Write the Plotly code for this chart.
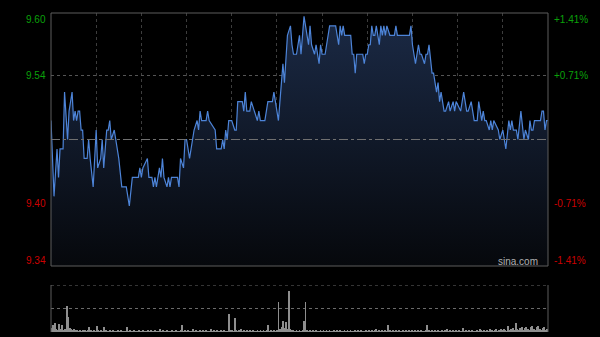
import plotly.graph_objects as go

# ---------------- data ----------------
prev_close = 9.47
pct_levels = [1.41, 0.71, -0.71, -1.41]
price_labels = ["9.60", "9.54", "9.40", "9.34"]
pct_labels = ["+1.41%", "+0.71%", "-0.71%", "-1.41%"]

# minutes after 09:30 (HK session, lunch break removed: 0..330)
minutes = [0, 2, 4, 5, 6, 8, 9, 11, 12, 14, 15, 16, 17, 18, 19, 20, 21, 22, 24, 25,
           26, 28, 29, 30, 31, 33, 34, 35, 37, 38, 39, 40, 42, 43, 45, 47, 50, 52, 54, 58,
           59, 60, 61, 64, 65, 67, 68, 69, 70, 72, 73, 74, 75, 77, 78, 79, 80, 84, 85, 86,
           88, 89, 90, 92, 94, 95, 97, 98, 99, 100, 103, 104, 105, 109, 110, 113, 114, 115, 116, 117,
           118, 120, 122, 123, 124, 127, 128, 129, 130, 132, 133, 135, 137, 138, 139, 142, 143, 144, 147, 148,
           149, 151, 152, 154, 155, 156, 157, 159, 160, 161, 163, 164, 165, 166, 167, 168, 169, 170, 171, 172,
           173, 175, 176, 178, 179, 180, 182, 183, 185, 189, 191, 192, 193, 194, 195, 199, 200, 201, 202, 203,
           207, 208, 209, 210, 211, 212, 213, 214, 215, 216, 218, 219, 220, 221, 222, 223, 225, 228, 229, 230,
           238, 239, 240, 241, 242, 244, 245, 246, 248, 249, 250, 251, 253, 254, 255, 256, 257, 258, 259, 260,
           261, 262, 264, 265, 267, 268, 269, 272, 274, 275, 276, 277, 279, 280, 281, 283, 284, 285, 286, 287,
           288, 289, 291, 292, 293, 294, 297, 298, 300, 301, 302, 304, 305, 306, 307, 309, 310, 312, 313, 314,
           315, 317, 318, 319, 320, 321, 323, 325, 326, 327, 328, 329, 330]
prices = [9.49, 9.41, 9.46, 9.43, 9.46, 9.46, 9.52, 9.47, 9.50, 9.52, 9.49, 9.50, 9.49, 9.50, 9.50, 9.48, 9.48, 9.45, 9.45, 9.47,
          9.45, 9.42, 9.45, 9.48, 9.44, 9.45, 9.47, 9.44, 9.48, 9.48, 9.49, 9.47, 9.48, 9.47, 9.45, 9.42, 9.42, 9.40, 9.43, 9.43,
          9.44, 9.43, 9.44, 9.45, 9.43, 9.43, 9.42, 9.43, 9.42, 9.44, 9.43, 9.45, 9.43, 9.42, 9.43, 9.42, 9.43, 9.43, 9.42, 9.45,
          9.44, 9.47, 9.47, 9.45, 9.47, 9.48, 9.49, 9.48, 9.50, 9.49, 9.49, 9.50, 9.49, 9.48, 9.46, 9.46, 9.47, 9.46, 9.48, 9.47,
          9.49, 9.49, 9.48, 9.48, 9.51, 9.51, 9.50, 9.52, 9.50, 9.50, 9.51, 9.50, 9.49, 9.50, 9.49, 9.49, 9.50, 9.51, 9.51, 9.52,
          9.51, 9.49, 9.51, 9.55, 9.53, 9.56, 9.58, 9.59, 9.57, 9.56, 9.56, 9.57, 9.58, 9.56, 9.58, 9.60, 9.59, 9.58, 9.57, 9.59,
          9.57, 9.56, 9.57, 9.55, 9.57, 9.56, 9.56, 9.57, 9.59, 9.59, 9.57, 9.59, 9.58, 9.59, 9.58, 9.58, 9.56, 9.56, 9.54, 9.56,
          9.56, 9.55, 9.56, 9.56, 9.57, 9.57, 9.59, 9.58, 9.58, 9.59, 9.57, 9.59, 9.58, 9.59, 9.58, 9.59, 9.58, 9.58, 9.59, 9.58,
          9.58, 9.59, 9.57, 9.56, 9.55, 9.57, 9.56, 9.56, 9.55, 9.56, 9.56, 9.57, 9.54, 9.54, 9.53, 9.52, 9.53, 9.51, 9.52, 9.51,
          9.50, 9.50, 9.51, 9.50, 9.51, 9.50, 9.51, 9.50, 9.52, 9.51, 9.50, 9.50, 9.51, 9.50, 9.49, 9.49, 9.51, 9.50, 9.49, 9.50,
          9.49, 9.49, 9.48, 9.49, 9.48, 9.49, 9.48, 9.47, 9.48, 9.47, 9.46, 9.49, 9.48, 9.49, 9.48, 9.48, 9.47, 9.50, 9.48, 9.47,
          9.48, 9.47, 9.49, 9.48, 9.48, 9.49, 9.49, 9.49, 9.50, 9.50, 9.48, 9.49, 9.49]

# per-minute volume (relative units), minute 0..330
volume = [4, 7, 9, 3, 2, 8, 3, 7, 2, 3, 26, 15, 4, 3, 2, 3, 2, 2, 1, 2, 1, 2, 2, 1, 2, 5, 2, 1, 2, 1,
          6, 2, 1, 2, 1, 5, 2, 1, 1, 2, 1, 2, 1, 1, 2, 1, 2, 1, 1, 1, 5, 1, 2, 1, 1, 2, 1, 1, 2, 1,
          1, 2, 1, 1, 2, 1, 2, 1, 1, 2, 1, 1, 3, 1, 2, 1, 1, 2, 1, 1, 2, 1, 1, 2, 1, 1, 2, 7, 1, 2,
          1, 2, 1, 1, 3, 1, 2, 1, 1, 2, 1, 2, 1, 2, 1, 1, 3, 1, 2, 1, 2, 1, 1, 2, 1, 2, 1, 1, 18, 2,
          2, 1, 14, 2, 1, 2, 3, 1, 2, 1, 2, 1, 2, 1, 2, 1, 1, 2, 1, 2, 1, 2, 1, 2, 7, 1, 2, 1, 2, 1,
          2, 30, 3, 5, 11, 4, 10, 3, 41, 3, 2, 2, 1, 2, 1, 2, 1, 2, 11, 30, 2, 1, 2, 1, 2, 1, 2, 1, 1, 2,
          1, 2, 1, 2, 1, 2, 1, 1, 2, 1, 2, 1, 2, 1, 1, 2, 1, 2, 1, 2, 1, 1, 2, 1, 2, 1, 2, 1, 1, 2,
          1, 2, 1, 2, 1, 2, 3, 1, 2, 1, 2, 1, 2, 1, 7, 2, 1, 2, 1, 2, 1, 2, 1, 1, 2, 1, 2, 1, 2, 1,
          2, 1, 2, 1, 2, 1, 2, 1, 1, 2, 7, 2, 1, 2, 1, 2, 1, 2, 1, 1, 2, 1, 2, 3, 1, 2, 1, 2, 1, 2,
          1, 2, 1, 1, 4, 1, 2, 1, 2, 1, 2, 1, 1, 2, 1, 3, 2, 1, 2, 1, 2, 1, 3, 2, 1, 2, 3, 1, 2, 3,
          2, 3, 2, 1, 6, 2, 3, 4, 2, 9, 3, 2, 4, 5, 2, 4, 5, 3, 2, 5, 6, 3, 2, 5, 6, 3, 2, 4, 5, 2, 3]
volume_max = 47
session_minutes = 330
grid_minutes = list(range(30, 330, 30))

# ---------------- figure ----------------
W, H = 600, 337
ytop = prev_close * (1 + pct_levels[0] / 100)
ybot = prev_close * (1 + pct_levels[-1] / 100)
level_prices = [prev_close * (1 + p / 100) for p in pct_levels]

x0p, x1p = 51 / W, 548 / W
price_dom = [1 - 266 / H, 1 - 13 / H]
vol_dom = [1 - 332 / H, 1 - 285 / H]

BORDER = "#5c5c5c"
GRID = "#3d3d3d"
FONT = "Liberation Sans, Arial, sans-serif"
GREEN = "#0aa00a"
RED = "#cc0000"

fig = go.Figure()
fig.add_trace(go.Scatter(
    x=minutes, y=prices, mode="lines",
    line=dict(color="#4d84d8", width=1.2),
    fill="tozeroy",
    fillgradient=dict(type="vertical", start=ybot, stop=ytop,
                      colorscale=[[0, "#06080c"], [1, "#1b2a46"]]),
    xaxis="x", yaxis="y", hoverinfo="skip", showlegend=False))
fig.add_trace(go.Bar(
    x=list(range(len(volume))), y=volume, width=0.6,
    marker=dict(color="#8e8e8e", line=dict(width=0)),
    xaxis="x2", yaxis="y2", hoverinfo="skip", showlegend=False))

shapes = []
# price panel border
shapes.append(dict(type="rect", xref="paper", yref="paper", x0=x0p, x1=x1p,
                   y0=price_dom[0], y1=price_dom[1], line=dict(color=BORDER, width=1)))
# previous-close line
shapes.append(dict(type="line", xref="x", yref="y", x0=0, x1=session_minutes,
                   y0=prev_close, y1=prev_close, line=dict(color="#707070", width=1, dash="dashdot")))
# volume panel
shapes.append(dict(type="line", xref="paper", yref="paper", x0=x0p, x1=x0p,
                   y0=vol_dom[0], y1=vol_dom[1], line=dict(color=BORDER, width=1)))
shapes.append(dict(type="line", xref="paper", yref="paper", x0=x1p, x1=x1p,
                   y0=vol_dom[0], y1=vol_dom[1], line=dict(color=BORDER, width=1)))
shapes.append(dict(type="line", xref="paper", yref="y2", x0=x0p, x1=x1p,
                   y0=volume_max, y1=volume_max, line=dict(color="#6a6a6a", width=1, dash="dot")))

annotations = []
shifts = [-6, 0, 0, 6]
for lvl, pl, pc, sh in zip(level_prices, price_labels, pct_labels, shifts):
    col = GREEN if lvl > prev_close else RED
    annotations.append(dict(xref="paper", yref="y", x=x0p, y=lvl, text=pl, showarrow=False,
                            xanchor="right", yanchor="middle", xshift=-3, yshift=sh,
                            font=dict(family=FONT, size=10, color=col)))
    annotations.append(dict(xref="paper", yref="y", x=x1p, y=lvl, text=pc, showarrow=False,
                            xanchor="left", yanchor="middle", xshift=4, yshift=sh,
                            font=dict(family=FONT, size=10, color=col)))
annotations.append(dict(xref="paper", yref="paper", x=518 / W, y=1 - 261.5 / H, text="sina.com",
                        showarrow=False, xanchor="center", yanchor="middle",
                        font=dict(family=FONT, size=10, color="#b0b0b0")))

fig.update_layout(
    width=W, height=H, margin=dict(l=0, r=0, t=0, b=0),
    paper_bgcolor="#000000", plot_bgcolor="#000000",
    showlegend=False, bargap=0,
    xaxis=dict(domain=[x0p, x1p], range=[0, session_minutes], anchor="y",
               tickvals=grid_minutes, showticklabels=False, showgrid=True,
               gridcolor=GRID, griddash="dot", gridwidth=1, zeroline=False, showline=False),
    yaxis=dict(domain=price_dom, range=[ybot, ytop], anchor="x",
               tickvals=[level_prices[1], level_prices[2]], showticklabels=False,
               showgrid=True, gridcolor="#555555", griddash="dot", gridwidth=1,
               zeroline=False, showline=False),
    xaxis2=dict(domain=[x0p, x1p], range=[-0.5, session_minutes + 0.5], anchor="y2",
                showticklabels=False, showgrid=False, zeroline=False, showline=False),
    yaxis2=dict(domain=vol_dom, range=[0, volume_max], anchor="x2",
                tickvals=[volume_max / 2], showticklabels=False, showgrid=True,
                gridcolor="#6a6a6a", griddash="dot", gridwidth=1, zeroline=False, showline=False),
    shapes=shapes, annotations=annotations,
)

fig.write_html("out.html")
